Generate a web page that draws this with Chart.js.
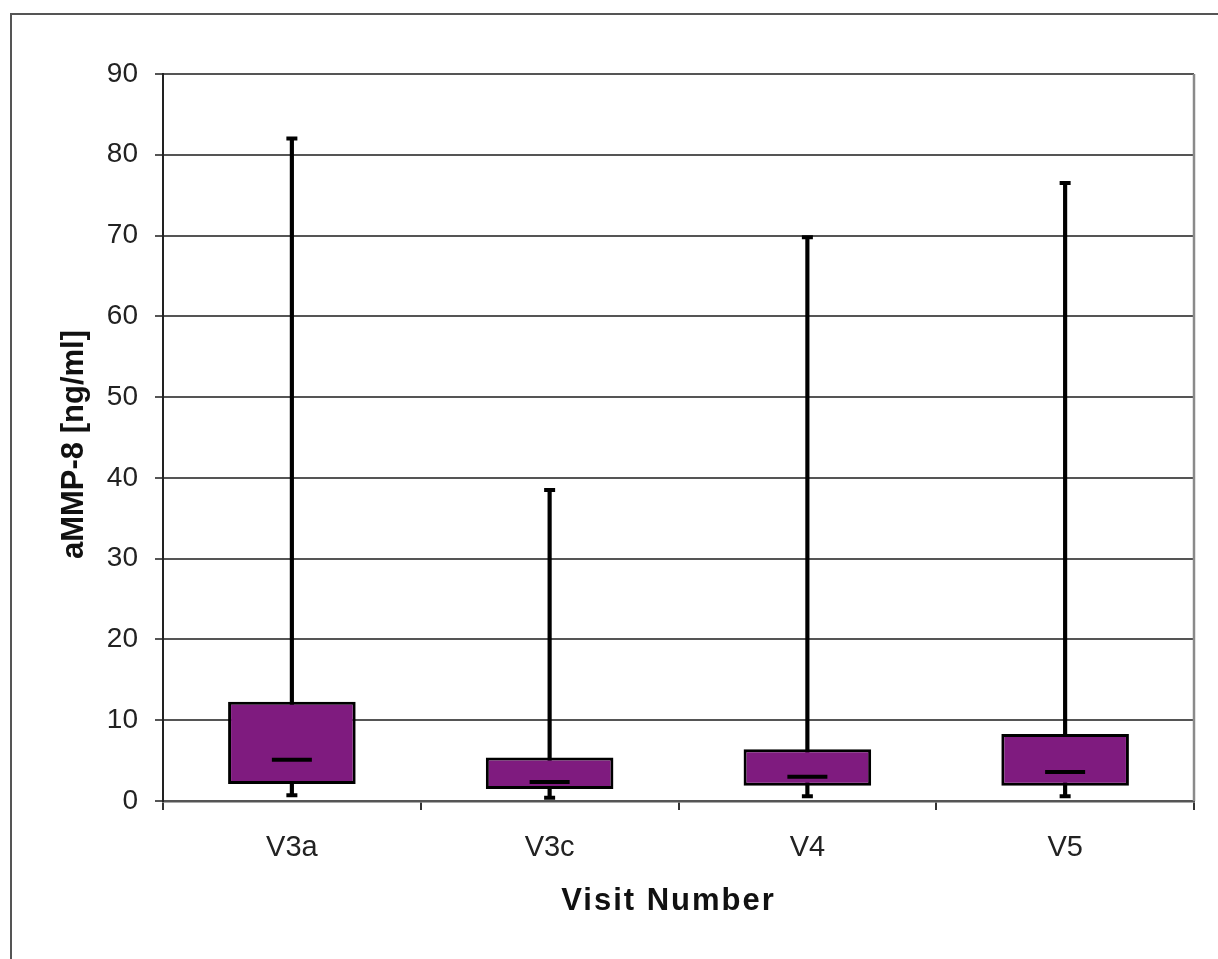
<!DOCTYPE html>
<html>
<head>
<meta charset="utf-8">
<script src="https://cdn.jsdelivr.net/npm/chart.js@4.4.1/dist/chart.umd.min.js"></script>
<style>
  html, body { margin: 0; padding: 0; background: #fff; overflow: hidden; }
  #wrap { position: relative; width: 1218px; height: 959px; }
  #c { position: absolute; left: 0; top: 0; }
  #frame { position: absolute; left: 10px; top: 13px; width: 1400px; height: 1200px;
           border-top: 2px solid #555; border-left: 2px solid #555; pointer-events: none; }
</style>
</head>
<body>
<div id="wrap">
  <canvas id="c" width="1218" height="959"></canvas>
  <div id="frame"></div>
</div>
<script>
// aMMP-8 concentrations per visit (box-and-whisker summary)
const visits        = ['V3a', 'V3c', 'V4', 'V5'];
const minimum       = [0.7, 0.4, 0.6, 0.6];
const lowerQuartile = [2.1, 1.5, 1.9, 1.9];
const median        = [5.1, 2.35, 3.0, 3.6];
const upperQuartile = [12.3, 5.4, 6.4, 8.3];
const maximum       = [82.0, 38.5, 69.8, 76.5];
const yTickValues   = [0, 10, 20, 30, 40, 50, 60, 70, 80, 90];

const FONT = "'Liberation Sans', Arial, Helvetica, sans-serif";
const BOX_FILL = '#7f1b7f';

// Right-hand edge of the plot area (the top edge is the 90 grid line)
const plotEdge = {
  id: 'plotEdge',
  beforeDatasetsDraw(chart) {
    const { ctx, chartArea: a } = chart;
    ctx.save();
    ctx.strokeStyle = '#8a8a8a';
    ctx.lineWidth = 2.5;
    ctx.beginPath();
    ctx.moveTo(a.right, a.top);
    ctx.lineTo(a.right, a.bottom);
    ctx.stroke();
    ctx.restore();
  }
};

// Axis title with extra letter tracking and a small positional nudge
function styleTitle(scale, spacing, dx, dy) {
  if (scale._styledTitle) return;
  scale._styledTitle = true;
  const draw = scale.drawTitle;
  scale.drawTitle = function () {
    const ctx = this.ctx;
    ctx.save();
    ctx.letterSpacing = spacing;
    ctx.translate(dx, dy);
    draw.call(this);
    ctx.restore();
  };
}

const range = (lo, hi) => visits.map((_, i) => [lo[i], hi[i]]);

new Chart(document.getElementById('c'), {
  data: {
    labels: visits,
    datasets: [
      { // median marks
        type: 'line', data: median, showLine: false, order: 0,
        pointStyle: 'line', pointRadius: 20, pointHoverRadius: 20,
        pointBorderWidth: 4, pointHoverBorderWidth: 4,
        pointBorderColor: '#000', pointBackgroundColor: '#000'
      },
      { // interquartile boxes
        type: 'bar', data: range(lowerQuartile, upperQuartile), order: 1,
        grouped: false, barPercentage: 0.495, categoryPercentage: 1,
        backgroundColor: BOX_FILL, borderColor: '#000', borderWidth: 3,
        borderSkipped: false
      },
      { // whisker caps, top
        type: 'line', data: maximum, showLine: false, order: 2,
        pointStyle: 'line', pointRadius: 5.5, pointHoverRadius: 5.5,
        pointBorderWidth: 4, pointHoverBorderWidth: 4, pointBorderColor: '#000'
      },
      { // whisker caps, bottom
        type: 'line', data: minimum, showLine: false, order: 2,
        pointStyle: 'line', pointRadius: 5.5, pointHoverRadius: 5.5,
        pointBorderWidth: 4, pointHoverBorderWidth: 4, pointBorderColor: '#000'
      },
      { // whiskers
        type: 'bar', data: range(minimum, maximum), order: 3,
        grouped: false, barThickness: 3.5,
        backgroundColor: '#000', borderWidth: 0
      }
    ]
  },
  options: {
    responsive: false,
    animation: false,
    events: [],
    layout: { padding: { top: 74, right: 21, left: 0, bottom: 0 } },
    plugins: { legend: { display: false }, tooltip: { enabled: false } },
    scales: {
      x: {
        offset: true,
        afterFit(s) { s.height = 158; styleTitle(s, '2px', -10, 0); },
        grid: { offset: true, drawOnChartArea: false, drawTicks: true, tickLength: 9,
                color: '#333', lineWidth: 2 },
        border: { color: '#555', width: 2.5 },
        ticks: { color: '#222', padding: 21, font: { family: FONT, size: 29 } },
        title: { display: true, text: 'Visit Number', color: '#111',
                 padding: { top: 0, bottom: 39 },
                 font: { family: FONT, size: 31, weight: 'bold' } }
      },
      y: {
        min: 0, max: 90,
        afterFit(s) { s.width = 163; styleTitle(s, '0px', 0, 7); },
        afterBuildTicks(s) { s.ticks = yTickValues.map(v => ({ value: v })); },
        grid: { color: '#555', lineWidth: 2, tickLength: 8 },
        border: { color: '#222', width: 2 },
        ticks: { color: '#222', padding: 17, font: { family: FONT, size: 28 } },
        title: { display: true, text: 'aMMP-8 [ng/ml]', color: '#111',
                 padding: { top: 56, bottom: 0 },
                 font: { family: FONT, size: 31, weight: 'bold' } }
      }
    }
  },
  plugins: [plotEdge]
});
</script>
</body>
</html>
